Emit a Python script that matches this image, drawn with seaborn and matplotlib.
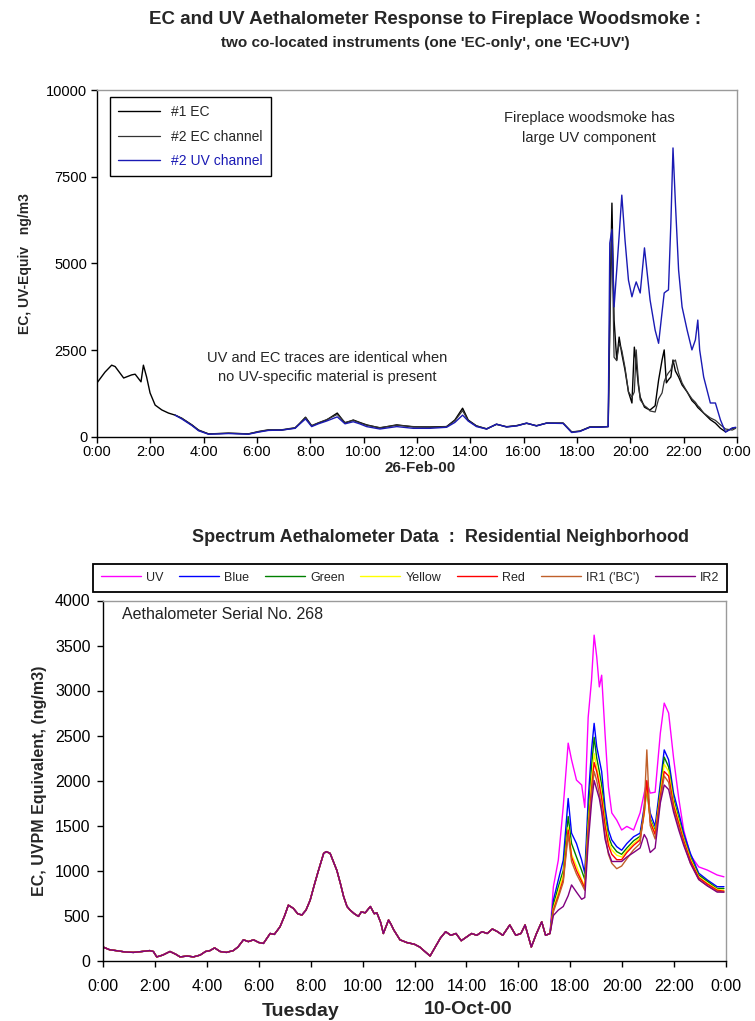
import numpy as np
import pandas as pd
import seaborn as sns
import matplotlib.pyplot as plt
from matplotlib.ticker import FixedLocator

# ---- top chart data: 26-Feb-00, fireplace woodsmoke (hours, ng/m3) ----
top_hours = [0.00, 0.30, 0.55, 0.68, 1.00, 1.30, 1.43, 1.65, 1.74, 1.86, 1.99, 2.18, 2.43, 2.68, 2.93,
             3.18, 3.56, 3.81, 4.18, 4.60, 4.93, 5.30, 5.68, 6.05, 6.43, 6.93, 7.43,
             7.61, 7.82, 8.05, 8.30, 8.61, 9.01, 9.30, 9.61, 9.85, 10.11, 10.61, 11.24, 11.86, 12.49,
             13.11, 13.42, 13.71, 13.92, 14.23, 14.61, 14.98, 15.36, 15.75, 16.11, 16.48, 16.86, 17.48, 17.80, 18.11, 18.48, 18.86,
             19.17, 19.23, 19.31, 19.39, 19.49, 19.58, 19.68, 19.80, 19.93, 20.06,
             20.15, 20.22, 20.30, 20.37, 20.53, 20.62, 20.74, 20.93, 21.06, 21.19,
             21.27, 21.35, 21.43, 21.52, 21.60, 21.69, 21.81, 21.94, 22.13, 22.31,
             22.44, 22.53, 22.60, 22.75, 23.00, 23.19, 23.38, 23.57, 23.82, 23.95]
top_ec1 = [1560, 1870, 2070, 2030, 1700, 1790, 1810, 1590, 2070, 1730, 1270, 920, 780, 690, 630,
           540, 350, 200, 90, 100, 110, 100, 90, 150, 200, 200, 260,
           400, 570, 320, 400, 490, 690, 400, 490, 420, 350, 260, 350, 290, 290,
           300, 490, 830, 490, 320, 230, 370, 290, 330, 400, 320, 400, 400, 140, 170, 290, 290,
           300, 3500, 6740, 3370, 2220, 2880, 2400, 1930, 1300, 980,
           2590, 2130, 1500, 1150, 860, 820, 780, 900, 1640, 2220,
           2510, 1560, 1650, 1730, 2220, 1900, 1730, 1500, 1300, 1050,
           950, 850, 800, 690, 500, 400, 250, 150, 250, 270]
top_ec2 = [None] * 14 + [630,
           540, 340, 190, 90, 100, 110, 100, 90, 160, 210, 210, 270,
           390, 560, 330, 410, 500, 650, 420, 480, 410, 340, 270, 340, 300, 280,
           300, 470, 760, 470, 320, 240, 360, 300, 330, 390, 330, 400, 400, 150, 170, 280, 290,
           300, 3000, 6000, 2300, 2200, 2700, 2500, 2000, 1300, 1150,
           1300, 2510, 1600, 1070, 900, 850, 750, 720, 1100, 1270,
           1600, 1750, 1850, 1930, 2150, 2220, 1840, 1560, 1300, 1100,
           1000, 900, 850, 690, 550, 480, 350, 230, 200, 250]
top_uv2 = [None] * 14 + [630,
           520, 330, 180, 80, 90, 100, 90, 80, 140, 190, 200, 250,
           380, 520, 300, 380, 460, 580, 380, 440, 380, 300, 230, 300, 250, 250,
           280, 420, 630, 460, 300, 230, 370, 290, 320, 400, 320, 400, 390, 130, 160, 280, 280,
           300, 5590, 5970, 3750, 4810, 5800, 6970, 5680, 4520, 4040,
           4300, 4470, 4300, 4150, 5450, 4810, 3950, 3080, 2700, 3600,
           4150, 4200, 4240, 6160, 8330, 6740, 4810, 3750, 3080, 2510,
           2800, 3370, 2510, 1730, 980, 980, 490, 140, 260, 280]

# ---- bottom chart data: 10-Oct-00, spectrum aethalometer ----
# channels track each other until ~17:15, then split in the evening
day_hours = [0.0, 0.25, 0.5, 0.85, 1.17, 1.5, 1.8, 1.94, 2.07, 2.3, 2.58, 2.8, 2.97, 3.25, 3.48, 3.74,
             3.95, 4.12, 4.3, 4.51, 4.75, 5.02, 5.2, 5.41, 5.6, 5.8, 6.0, 6.18, 6.44, 6.6, 6.82, 7.0,
             7.14, 7.33, 7.5, 7.66, 7.82, 7.98, 8.15, 8.3, 8.5, 8.6, 8.75, 9.01, 9.15, 9.27, 9.4, 9.52,
             9.68, 9.84, 9.95, 10.1, 10.3, 10.45, 10.55, 10.7, 10.8, 11.0, 11.1, 11.2, 11.44, 11.7, 12.0,
             12.2, 12.4, 12.6, 12.8, 13.0, 13.2, 13.4, 13.6, 13.8, 14.0, 14.2, 14.4, 14.6, 14.8, 15.0,
             15.2, 15.4, 15.67, 15.9, 16.1, 16.26, 16.5, 16.7, 16.9, 17.05, 17.22]
day_level = [150, 120, 110, 95, 90, 100, 110, 100, 40, 60, 100, 70, 40, 50, 40, 60,
             100, 110, 140, 100, 90, 110, 150, 230, 210, 230, 200, 190, 300, 290, 375, 500,
             615, 580, 520, 505, 560, 670, 850, 1000, 1190, 1210, 1190, 1000, 850, 710, 600, 560,
             520, 490, 540, 530, 600, 520, 530, 420, 300, 450, 400, 340, 230, 200, 180,
             150, 100, 50, 150, 250, 320, 280, 300, 220, 260, 300, 280, 320, 300, 350,
             320, 280, 395, 280, 300, 395, 150, 300, 430, 280, 300]
eve_hours = [17.35, 17.54, 17.73, 17.92, 18.05, 18.24, 18.44, 18.56, 18.69, 18.82, 18.92, 19.02,
             19.12, 19.21, 19.34, 19.47, 19.60, 19.79, 19.98, 20.18, 20.44, 20.69, 20.85, 20.95,
             21.08, 21.27, 21.47, 21.62, 21.79, 21.98, 22.18, 22.37, 22.63, 22.95, 23.28, 23.66, 23.92]
eve_uv = [820, 1115, 1710, 2415, 2230, 2005, 1950, 1700, 2700, 3115, 3615, 3375,
          3040, 3170, 2520, 1930, 1640, 1560, 1450, 1490, 1450, 1640, 1860, 1990,
          1860, 1870, 2525, 2860, 2750, 2250, 1800, 1450, 1170, 1040, 1005, 950, 930]
eve_blue = [670, 895, 1115, 1800, 1415, 1300, 1115, 970, 1780, 2340, 2635, 2375,
            2230, 2100, 1700, 1450, 1340, 1265, 1225, 1300, 1375, 1415, 1710, 1930,
            1640, 1490, 1970, 2340, 2230, 1860, 1640, 1415, 1190, 970, 895, 820, 820]
eve_green = [620, 820, 1000, 1600, 1300, 1150, 1000, 900, 1600, 2150, 2480, 2250,
             2100, 1950, 1600, 1380, 1280, 1210, 1180, 1250, 1330, 1380, 1650, 1900,
             1580, 1440, 1900, 2260, 2150, 1800, 1580, 1370, 1150, 950, 880, 800, 800]
eve_yellow = [580, 760, 950, 1480, 1180, 1050, 900, 820, 1500, 2000, 2300, 2150,
              2000, 1850, 1550, 1330, 1230, 1170, 1150, 1220, 1300, 1360, 1620, 1950,
              1560, 1420, 1850, 2180, 2100, 1760, 1550, 1350, 1130, 930, 860, 790, 780]
eve_red = [560, 720, 900, 1450, 1150, 1000, 880, 800, 1450, 1900, 2200, 2100,
           1950, 1800, 1500, 1280, 1180, 1120, 1120, 1200, 1280, 1340, 1650, 2000,
           1540, 1400, 1820, 2100, 2050, 1720, 1520, 1330, 1110, 920, 850, 780, 770]
eve_ir1 = [540, 700, 870, 1400, 1100, 960, 850, 780, 1400, 1850, 2100, 2000,
           1850, 1700, 1400, 1180, 1080, 1020, 1050, 1130, 1230, 1300, 1700, 2340,
           1500, 1350, 1780, 2050, 1980, 1680, 1480, 1300, 1080, 900, 830, 770, 760]
eve_ir2 = [500, 560, 600, 720, 840, 760, 680, 700, 1300, 1750, 2000, 1900,
           1800, 1650, 1350, 1200, 1100, 1100, 1100, 1150, 1200, 1250, 1400, 1350,
           1200, 1250, 1750, 1950, 1900, 1650, 1450, 1280, 1080, 900, 830, 760, 760]

channel_names = ["UV", "Blue", "Green", "Yellow", "Red", "IR1 ('BC')", "IR2"]
channel_colors = ["#ff00ff", "#0000ff", "#008000", "#ffff00", "#ff0000", "#c0602a", "#800080"]
channel_eve = [eve_uv, eve_blue, eve_green, eve_yellow, eve_red, eve_ir1, eve_ir2]

sns.set_style("white")
plt.rcParams["font.family"] = ["Liberation Sans", "DejaVu Sans"]
NARROW = ["Liberation Sans Narrow", "Liberation Sans", "DejaVu Sans"]

W, H = 755, 1021
fig = plt.figure(figsize=(W / 100, H / 100), dpi=100)


def px_axes(left, top, right, bottom):
    return fig.add_axes([left / W, 1 - bottom / H, (right - left) / W, (bottom - top) / H])


def style_axes(ax, tick_size, xpad, ypad):
    for s in ["left", "bottom"]:
        ax.spines[s].set_color("black")
        ax.spines[s].set_linewidth(1.0)
    for s in ["top", "right"]:
        ax.spines[s].set_color("#9a9a9a")
        ax.spines[s].set_linewidth(1.0)
    ax.tick_params(direction="out", length=4, width=1, colors="black",
                   labelsize=tick_size, left=True, bottom=True)
    ax.tick_params(axis="x", pad=xpad)
    ax.tick_params(axis="y", pad=ypad)
    ax.set_xlim(0, 24)
    ax.xaxis.set_major_locator(FixedLocator(range(0, 25, 2)))
    ax.set_xticklabels([f"{h % 24}:00" for h in range(0, 25, 2)])


# ---------------- top chart ----------------
ax1 = px_axes(97, 90, 737, 437)
top = pd.DataFrame({"hour": top_hours, "ec1": top_ec1, "ec2": top_ec2, "uv2": top_uv2}).astype(float)
sns.lineplot(data=top, x="hour", y="ec1", ax=ax1, color="black", lw=1.0, label="#1 EC",
             estimator=None, sort=False)
sns.lineplot(data=top, x="hour", y="ec2", ax=ax1, color="#333333", lw=0.9, label="#2 EC channel",
             estimator=None, sort=False)
sns.lineplot(data=top, x="hour", y="uv2", ax=ax1, color="#1a1ab4", lw=1.0, label="#2 UV channel",
             estimator=None, sort=False)
ax1.set_ylim(0, 10000)
ax1.set_yticks([0, 2500, 5000, 7500, 10000])
style_axes(ax1, 10.5, 1.5, 3)
ax1.set_xlabel("")
ax1.set_ylabel("EC, UV-Equiv   ng/m3", fontsize=10, fontweight="bold", labelpad=10)
leg1 = ax1.legend(loc="upper left", bbox_to_anchor=(0.02, 0.98), fontsize=10, handlelength=3.0,
                  fancybox=False, edgecolor="black", framealpha=1, borderpad=0.6,
                  labelspacing=0.75, borderaxespad=0)
leg1.get_frame().set_linewidth(1.0)
leg1.get_texts()[2].set_color("#1a1ab4")

ax1.text(0.769, 0.89, "Fireplace woodsmoke has\nlarge UV component", transform=ax1.transAxes,
         ha="center", va="center", fontsize=10.5, linespacing=1.5)
ax1.text(0.36, 0.20, "UV and EC traces are identical when\nno UV-specific material is present",
         transform=ax1.transAxes, ha="center", va="center", fontsize=10.5, linespacing=1.5)

fig.text(425 / W, 1 - 20 / H, "EC and UV Aethalometer Response to Fireplace Woodsmoke :",
         ha="center", va="center", fontsize=13.5, fontweight="bold", family=NARROW)
fig.text(425 / W, 1 - 43 / H, "two co-located instruments (one 'EC-only', one 'EC+UV')",
         ha="center", va="center", fontsize=11, fontweight="bold", family=NARROW)
fig.text(420 / W, 1 - 468 / H, "26-Feb-00", ha="center", va="center", fontsize=11,
         fontweight="bold", family=NARROW)

# ---------------- bottom chart ----------------
ax2 = px_axes(103, 600.5, 726, 960.5)
rows = []
for name, vals in zip(channel_names, channel_eve):
    rows.append(pd.DataFrame({"hour": day_hours + eve_hours, "value": day_level + vals, "channel": name}))
spec = pd.concat(rows, ignore_index=True)
sns.lineplot(data=spec, x="hour", y="value", hue="channel", hue_order=channel_names,
             palette=dict(zip(channel_names, channel_colors)), ax=ax2, lw=1.0,
             estimator=None, sort=False)
ax2.set_ylim(0, 4000)
ax2.set_yticks(range(0, 4001, 500))
style_axes(ax2, 11.5, 9, 5)
ax2.set_xlabel("")
ax2.set_ylabel("EC, UVPM Equivalent, (ng/m3)", fontsize=11.5, fontweight="bold", labelpad=6)
handles, labels = ax2.get_legend_handles_labels()
leg2 = ax2.legend(handles, labels, loc="lower left", bbox_to_anchor=(-0.016, 1.024, 1.018, 0.08),
                  mode="expand", ncol=7, fontsize=9, handlelength=3.2, handletextpad=0.4,
                  fancybox=False, edgecolor="black", framealpha=1, borderaxespad=0,
                  borderpad=0.65, columnspacing=0.6)
leg2.get_frame().set_linewidth(1.3)

ax2.text(0.03, 0.96, "Aethalometer Serial No. 268", transform=ax2.transAxes, ha="left",
         va="center", fontsize=11.5, color="#222222")

fig.text(440 / W, 1 - 538 / H, "Spectrum Aethalometer Data  :  Residential Neighborhood",
         ha="center", va="center", fontsize=13, fontweight="bold", family=NARROW)
fig.text(301 / W, 1 - 1011 / H, "Tuesday", ha="center", va="center", fontsize=14, fontweight="bold")
fig.text(468 / W, 1 - 1009 / H, "10-Oct-00", ha="center", va="center", fontsize=14,
         fontweight="bold", family=NARROW)

fig.savefig("out.png", dpi=100, facecolor="white")
